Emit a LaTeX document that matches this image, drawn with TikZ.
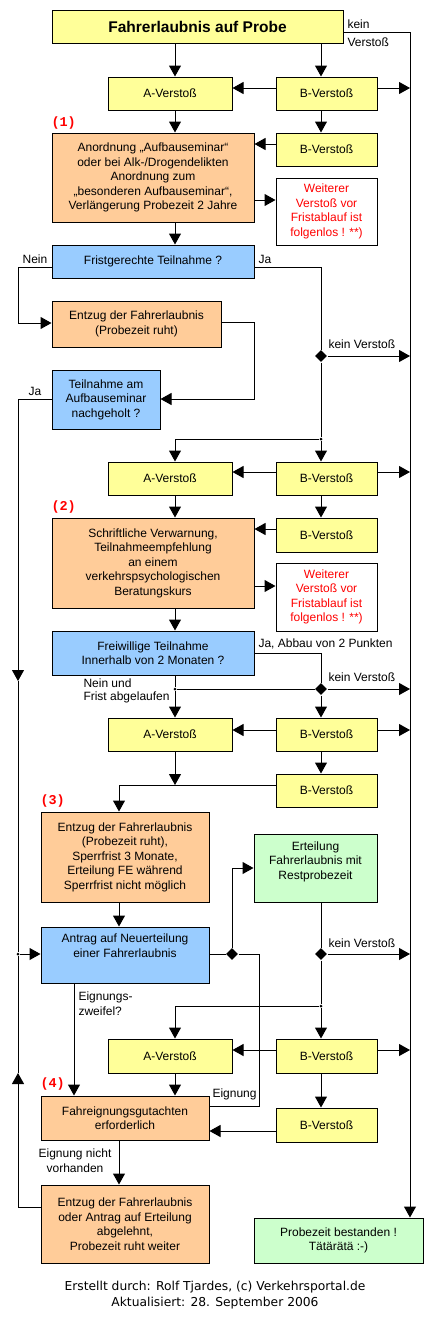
\documentclass[tikz,border=0pt]{standalone}
\usepackage{fontspec}
\setmainfont{Liberation Sans}
\newfontfamily\numfont{Liberation Mono}
\newfontfamily\footfont{DejaVu Sans}
\usetikzlibrary{arrows.meta,shapes.geometric}
\definecolor{cyel}{HTML}{FFFF99}
\definecolor{cora}{HTML}{FFCC99}
\definecolor{cblu}{HTML}{99CCFF}
\definecolor{cgrn}{HTML}{CCFFCC}
\definecolor{cred}{HTML}{FF0000}
\newcommand\mybox[7]{\node[#2, minimum width={(#5)-(#3)}, minimum height={(#6)-(#4)}] (#1) at ({((#3)+(#5))/2},{((#4)+(#6))/2}) {#7};}
\begin{document}
\begin{tikzpicture}[x=1pt,y=-1pt, line width=1pt,
 box/.style={draw=black, line width=1pt, inner sep=0pt, align=center, font=\fontsize{12}{14.5}\selectfont},
 ybox/.style={box, fill=cyel},
 obox/.style={box, fill=cora},
 bbox/.style={box, fill=cblu},
 gbox/.style={box, fill=cgrn},
 wbox/.style={box, fill=white, text=cred},
 arr/.style={line width=1pt, -{Triangle[length=11pt,width=12pt]}},
 ln/.style={line width=1pt},
 dia/.style={diamond, fill=black, inner sep=0pt, minimum size=12pt},
 dot/.style={circle, fill=black, inner sep=0pt, minimum size=3pt},
 lbl/.style={inner sep=0pt, font=\fontsize{12}{14}\selectfont},
 num/.style={inner sep=0pt, text=cred, font=\numfont\bfseries\fontsize{13.5}{13.5}\selectfont}
]
\useasboundingbox[fill=white] (0,0) rectangle (430,1320);
% column coordinates
\coordinate (xL) at (18,0);
\coordinate (xZ) at (74,0);
\coordinate (xC) at (119,0);
\coordinate (xA) at (175,0);
\coordinate (xE) at (254,0);
\coordinate (xD) at (259,0);
\coordinate (xB) at (321,0);
\coordinate (xR) at (410,0);
\coordinate (m1) at (18,681);
\coordinate (m2) at (18,1073);

% boxes
\mybox{title}{ybox}{52}{10}{343}{43}{\fontsize{15.5}{18}\selectfont\bfseries Fahrerlaubnis auf Probe}
\mybox{a1}{ybox}{108}{77}{232}{110}{A-Verstoß}
\mybox{b1}{ybox}{276}{77}{377}{110}{B-Verstoß}
\mybox{b2}{ybox}{276}{133}{377}{166}{B-Verstoß}
\mybox{o1}{obox}{52}{133}{254}{222}{Anordnung „Aufbauseminar“\\oder bei Alk-/Drogendelikten\\Anordnung zum\\„besonderen Aufbauseminar“,\\Verlängerung Probezeit 2 Jahre}
\mybox{r1}{wbox}{276}{178}{377}{245}{Weiterer\\Verstoß vor\\Fristablauf ist\\folgenlos ! **)}
\mybox{q1}{bbox}{52}{245}{254}{278}{Fristgerechte Teilnahme ?}
\mybox{e1}{obox}{52}{301}{221}{347}{Entzug der Fahrerlaubnis\\(Probezeit ruht)}
\mybox{q2}{bbox}{52}{370}{160}{429}{Teilnahme am\\Aufbauseminar\\nachgeholt ?}
\mybox{a2}{ybox}{108}{462}{232}{495}{A-Verstoß}
\mybox{b3}{ybox}{276}{462}{377}{495}{B-Verstoß}
\mybox{o2}{obox}{52}{518}{254}{608}{Schriftliche Verwarnung,\\Teilnahmeempfehlung\\an einem\\verkehrspsychologischen\\Beratungskurs}
\mybox{b4}{ybox}{276}{518}{377}{552}{B-Verstoß}
\mybox{r2}{wbox}{276}{563}{377}{631}{Weiterer\\Verstoß vor\\Fristablauf ist\\folgenlos ! **)}
\mybox{q3}{bbox}{52}{631}{254}{675}{Freiwillige Teilnahme\\Innerhalb von 2 Monaten ?}
\mybox{a3}{ybox}{108}{718}{232}{751}{A-Verstoß}
\mybox{b5}{ybox}{276}{718}{377}{751}{B-Verstoß}
\mybox{b6}{ybox}{276}{774}{377}{807}{B-Verstoß}
\mybox{o3}{obox}{41}{812}{209}{902}{Entzug der Fahrerlaubnis\\(Probezeit ruht),\\Sperrfrist 3 Monate,\\Erteilung FE während\\Sperrfrist nicht möglich}
\mybox{g1}{gbox,text depth=15pt}{254}{834}{377}{902}{Erteilung\\Fahrerlaubnis mit\\Restprobezeit}
\mybox{q4}{bbox,text depth=19pt}{41}{927}{209}{983}{Antrag auf Neuerteilung\\einer Fahrerlaubnis}
\mybox{a4}{ybox}{108}{1039}{232}{1073}{A-Verstoß}
\mybox{b7}{ybox}{276}{1039}{377}{1073}{B-Verstoß}
\mybox{o4}{obox}{41}{1096}{209}{1140}{Fahreignungsgutachten\\erforderlich}
\mybox{b8}{ybox}{276}{1108}{377}{1142}{B-Verstoß}
\mybox{o5}{obox}{41}{1185}{209}{1263}{Entzug der Fahrerlaubnis\\oder Antrag auf Erteilung\\abgelehnt,\\Probezeit ruht weiter}
\mybox{g2}{gbox}{254}{1218}{423}{1263}{Probezeit bestanden !\\Tätärätä :-)}

% junctions
\node[dia] (d1) at (321,356) {};
\node[dot] (j1) at (321,439) {};
\node[dia] (d2) at (321,689) {};
\node[dot] (j2) at (175,689) {};
\node[dia] (d3) at (232,954) {};
\node[dia] (d4) at (321,954) {};
\node[dot] (j3) at (321,1006) {};
\node[dot] (j4) at (18,954) {};

% labels
\node[num,anchor=west] (n1) at (51,123) {(1)};
\node[num,anchor=west] (n2) at (51,507) {(2)};
\node[num,anchor=west] (n3) at (40,801) {(3)};
\node[num,anchor=west] (n4) at (40,1084) {(4)};
\node[lbl,anchor=west] (k0a) at (347,24) {kein};
\node[lbl,anchor=west] (k0b) at (347,42) {Verstoß};
\node[lbl] (lnein) at (35,259) {Nein};
\node[lbl,anchor=west] (lja1) at (258,259) {Ja};
\node[lbl,anchor=west] (k1) at (328,344) {kein Verstoß};
\node[lbl] (lja2) at (35,391) {Ja};
\node[lbl,anchor=west] (lja3) at (258,644) {Ja, Abbau von 2 Punkten};
\node[lbl,anchor=west] (k2) at (328,677) {kein Verstoß};
\node[lbl,anchor=west,align=left,font=\fontsize{12}{12.7}\selectfont] (lnein2) at (83,691) {Nein und\\Frist abgelaufen};
\node[lbl,anchor=west] (k3) at (328,943) {kein Verstoß};
\node[lbl,anchor=west,align=left,font=\fontsize{12}{15}\selectfont] (lzw) at (78,1003.5) {Eignungs-\\zweifel?};
\node[lbl,anchor=west] (leig) at (212,1094) {Eignung};
\node[lbl,align=center,font=\fontsize{12}{15}\selectfont] (lnv) at (75,1160.5) {Eignung nicht\\vorhanden};
\node[inner sep=0pt,align=center,font=\footfont\fontsize{12.3}{16}\selectfont] (foot) at (215,1295) {Erstellt durch: Rolf Tjardes, (c) Verkehrsportal.de\\Aktualisiert: 28. September 2006};

% connectors
\draw[arr] (title.south -| xA) -- (a1.north -| xA);
\draw[arr] (title.south -| xB) -- (b1.north -| xB);
\draw[arr] (title.east |- 0,32) -| (g2.north -| xR);
\draw[arr] (b1.west |- 0,88) -- (a1.east |- 0,88);
\draw[arr] (b1.east |- 0,88) -- (xR |- 0,88);
\draw[arr] (a1.south -| xA) -- (o1.north -| xA);
\draw[arr] (b1.south -| xB) -- (b2.north -| xB);
\draw[arr] (b2.west |- 0,144) -- (o1.east |- 0,144);
\draw[arr] (o1.east |- 0,200) -- (r1.west |- 0,200);
\draw[arr] (o1.south -| xA) -- (q1.north -| xA);
\draw[arr] (q1.west |- 0,267) -| (xL |- 0,323) -- (e1.west |- 0,323);
\draw[ln] (q1.east |- 0,267) -| (d1.north);
\draw[arr] (e1.east |- 0,322) -| (xE |- 0,399) -- (q2.east |- 0,399);
\draw[arr] (q2.west |- 0,399) -| (m1);
\draw[ln] (m1) -- (j4);
\draw[arr] (j4) -- (q4.west |- j4);
\draw[arr] (d1.east) -- (xR |- d1);
\draw[ln] (d1.south) -- (j1);
\draw[arr] (j1) -| (a2.north -| xA);
\draw[arr] (j1) -- (b3.north -| xB);
\draw[arr] (b3.west |- 0,472) -- (a2.east |- 0,472);
\draw[arr] (b3.east |- 0,472) -- (xR |- 0,472);
\draw[arr] (a2.south -| xA) -- (o2.north -| xA);
\draw[arr] (b3.south -| xB) -- (b4.north -| xB);
\draw[arr] (b4.west |- 0,529) -- (o2.east |- 0,529);
\draw[arr] (o2.east |- 0,586) -- (r2.west |- 0,586);
\draw[arr] (o2.south -| xA) -- (q3.north -| xA);
\draw[ln] (q3.east |- 0,653) -| (d2.north);
\draw[ln] (q3.south -| xA) -- (j2);
\draw[ln] (j2) -- (d2.west);
\draw[arr] (d2.east) -- (xR |- d2);
\draw[arr] (j2) -- (a3.north -| xA);
\draw[arr] (d2.south) -- (b5.north -| xB);
\draw[arr] (b5.west |- 0,730) -- (a3.east |- 0,730);
\draw[arr] (b5.east |- 0,730) -- (xR |- 0,730);
\draw[arr] (b5.south -| xB) -- (b6.north -| xB);
\draw[arr] (a3.south -| xA) -- (xA |- 0,785);
\draw[arr] (b6.west |- 0,785) -| (o3.north -| xC);
\draw[arr] (o3.south -| xC) -- (q4.north -| xC);
\draw[ln] (q4.east |- d3) -- (d3.west);
\draw[arr] (d3.north) |- (g1.west |- 0,868);
\draw[ln] (d3.east) -| (xD |- 0,1106) -- (o4.east |- 0,1106);
\draw[ln] (g1.south -| xB) -- (d4.north);
\draw[arr] (d4.east) -- (xR |- d4);
\draw[ln] (d4.south) -- (j3);
\draw[arr] (j3) -| (a4.north -| xA);
\draw[arr] (j3) -- (b7.north -| xB);
\draw[arr] (b7.west |- 0,1050) -- (a4.east |- 0,1050);
\draw[arr] (b7.east |- 0,1050) -- (xR |- 0,1050);
\draw[arr] (a4.south -| xA) -- (o4.north -| xA);
\draw[arr] (q4.south -| xZ) -- (o4.north -| xZ);
\draw[arr] (b7.south -| xB) -- (b8.north -| xB);
\draw[arr] (b8.west |- 0,1131) -- (o4.east |- 0,1131);
\draw[arr] (o4.south -| xC) -- (o5.north -| xC);
\draw[arr] (o5.west |- 0,1207) -| (m2);
\draw[ln] (m2) -- (j4);
\end{tikzpicture}
\end{document}
